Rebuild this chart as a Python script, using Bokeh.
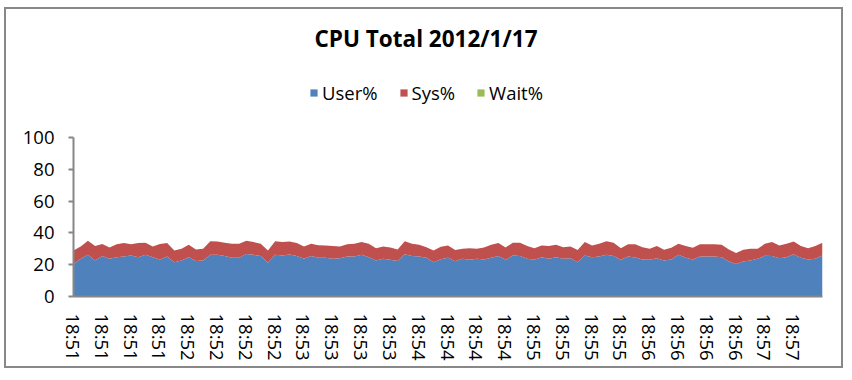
from bokeh.plotting import figure
from bokeh.models import ColumnDataSource, Range1d, FixedTicker, Label
from bokeh.embed import file_html
from bokeh.resources import INLINE

TITLE = "CPU Total 2012/1/17"
SERIES = ["User%", "Sys%", "Wait%"]
COLORS = ["#4F81BD", "#C0504D", "#9BBB59"]

TIME_LABELS = [
    "18:51", "18:51", "18:51", "18:51",
    "18:52", "18:52", "18:52", "18:52",
    "18:53", "18:53", "18:53", "18:53",
    "18:54", "18:54", "18:54", "18:54",
    "18:55", "18:55", "18:55", "18:55",
    "18:56", "18:56", "18:56", "18:56",
    "18:57", "18:57",
]
LABEL_EVERY = 4

USER = [
    20.5, 23.7, 26.2, 22.6, 25.4, 23.7, 24.7, 25.1, 25.8, 24.7,
    26.2, 24.7, 23.3, 25.1, 21.6, 22.6, 24.7, 22.3, 22.6, 26.2,
    26.2, 25.4, 24.3, 24.3, 26.8, 26.2, 25.4, 21.2, 26.2, 25.8,
    26.4, 25.4, 23.7, 25.4, 24.3, 24.3, 23.7, 24.0, 25.1, 25.1,
    26.2, 24.7, 22.6, 23.7, 23.1, 22.4, 26.6, 25.4, 25.1, 24.3,
    21.6, 23.5, 24.3, 22.2, 23.7, 23.1, 23.7, 23.3, 24.3, 25.4,
    23.1, 25.8, 25.4, 23.7, 23.1, 24.7, 23.7, 24.7, 23.7, 24.0,
    21.6, 25.8, 24.7, 25.1, 26.2, 25.4, 23.1, 25.1, 24.5, 23.3,
    23.1, 24.0, 22.6, 23.3, 26.2, 24.3, 23.3, 25.1, 25.1, 25.1,
    24.7, 22.0, 20.5, 22.0, 22.6, 23.7, 25.6, 25.4, 24.0, 24.7,
    26.6, 24.3, 23.3, 23.7, 25.8,
]
SYS = [
    8.4, 7.8, 8.8, 9.1, 7.6, 7.1, 8.1, 8.5, 7.0, 8.9,
    7.6, 6.8, 9.7, 8.5, 7.3, 7.4, 7.8, 7.2, 7.4, 8.6,
    8.4, 8.4, 8.8, 8.8, 8.2, 8.0, 7.7, 7.7, 8.6, 8.4,
    8.2, 8.2, 7.8, 7.7, 8.0, 7.8, 8.0, 7.4, 7.8, 8.0,
    8.0, 8.4, 7.8, 7.7, 7.7, 7.1, 8.2, 7.7, 7.4, 6.7,
    7.3, 7.8, 7.8, 7.0, 6.3, 7.3, 6.3, 7.5, 8.2, 8.2,
    7.7, 8.0, 8.4, 8.0, 7.3, 7.4, 8.0, 7.8, 7.3, 7.5,
    7.6, 8.4, 7.4, 8.0, 8.6, 8.4, 7.3, 7.7, 8.4, 7.7,
    6.9, 7.7, 6.8, 7.3, 6.9, 7.4, 7.4, 7.7, 7.7, 7.7,
    7.8, 7.5, 6.8, 7.4, 7.4, 6.3, 7.5, 8.8, 8.1, 8.4,
    8.0, 7.4, 7.1, 8.0, 8.0,
]
WAIT = [
    0, 0, 0, 0, 0, 0, 0, 0, 0, 0,
    0, 0, 0, 0, 0, 0, 0, 0, 0, 0,
    0, 0, 0, 0, 0, 0, 0, 0, 0, 0,
    0, 0, 0, 0, 0, 0, 0, 0, 0, 0,
    0, 0, 0, 0, 0, 0, 0, 0, 0, 0,
    0, 0, 0, 0, 0, 0, 0, 0, 0, 0,
    0, 0, 0, 0, 0, 0, 0, 0, 0, 0,
    0, 0, 0, 0, 0, 0, 0, 0, 0, 0,
    0, 0, 0, 0, 0, 0, 0, 0, 0, 0,
    0, 0, 0, 0, 0, 0, 0, 0, 0, 0,
    0, 0, 0, 0, 0,
]
Y_TICKS = [0, 20, 40, 60, 80, 100]

N = len(USER)
xs = list(range(N))
source = ColumnDataSource(dict(x=xs, user=USER, sys=SYS, wait=WAIT))

# ---- layout (page pixels) ----
MARGIN_X, MARGIN_Y, BORDER = 4, 7, 2
OFF_X, OFF_Y = MARGIN_X + BORDER, MARGIN_Y + BORDER
W, H = 839, 361
FRAME_LEFT, FRAME_RIGHT = 73, 822
ZERO_Y, HUNDRED_Y, FRAME_TOP = 296, 137, 16
px_per_unit = (ZERO_Y - HUNDRED_Y) / 100.0
y_top = (ZERO_Y - FRAME_TOP) / px_per_unit

FONT = "Open Sans"
AXIS_GRAY = "#868686"
TICK_FONT_SIZE = "18.5px"

p = figure(width=W, height=H, output_backend="svg", toolbar_location=None,
           x_range=Range1d(0, N - 1), y_range=Range1d(0, y_top),
           min_border_left=FRAME_LEFT - OFF_X,
           min_border_right=W - (FRAME_RIGHT - OFF_X),
           min_border_top=FRAME_TOP - OFF_Y,
           min_border_bottom=H - (ZERO_Y - OFF_Y),
           background_fill_color="white", border_fill_color="white")
p.styles = {"border": f"{BORDER}px solid #888888",
            "margin-left": f"{MARGIN_X}px", "margin-top": f"{MARGIN_Y}px"}
p.outline_line_color = None
p.grid.visible = False

p.varea_stack(["user", "sys", "wait"], x="x", color=COLORS,
              legend_label=SERIES, source=source)

# y axis
ya = p.yaxis[0]
ya.ticker = FixedTicker(ticks=Y_TICKS)
ya.bounds = (0, 100)
ya.axis_line_color = AXIS_GRAY
ya.axis_line_width = 2
ya.major_tick_line_color = AXIS_GRAY
ya.major_tick_line_width = 2
ya.major_tick_out = 5
ya.major_tick_in = 0
ya.minor_tick_line_color = None
ya.major_label_standoff = 14
ya.major_label_text_font = FONT
ya.major_label_text_font_size = TICK_FONT_SIZE
ya.major_label_text_color = "black"

# x axis
xa = p.xaxis[0]
tick_pos = [i * LABEL_EVERY for i in range(len(TIME_LABELS))]
xa.ticker = FixedTicker(ticks=tick_pos)
xa.major_label_overrides = {t: lab for t, lab in zip(tick_pos, TIME_LABELS)}
xa.major_label_orientation = "vertical"
xa.axis_line_color = AXIS_GRAY
xa.axis_line_width = 2
xa.major_tick_line_color = None
xa.minor_tick_line_color = None
xa.major_label_standoff = 11
xa.major_label_text_font = FONT
xa.major_label_text_font_size = TICK_FONT_SIZE
xa.major_label_text_color = "black"

# title
title_cx = 425.5
title_cy = 38
p.add_layout(Label(
    x=(N - 1) * (title_cx - FRAME_LEFT) / (FRAME_RIGHT - FRAME_LEFT),
    y=(ZERO_Y - title_cy) / px_per_unit,
    text=TITLE, text_font=FONT, text_font_size="22.5px",
    text_font_style="bold", text_align="center", text_baseline="middle",
    text_color="black"))

# legend
lg = p.legend[0]
lg.orientation = "horizontal"
lg.location = (309 - FRAME_LEFT, ZERO_Y - 105)
lg.padding = 0
lg.margin = 0
lg.spacing = 21
lg.glyph_width = 9
lg.glyph_height = 9
lg.label_standoff = 4
lg.label_height = 20
lg.label_text_font = FONT
lg.label_text_font_size = "18.5px"
lg.label_text_color = "black"
lg.border_line_color = None
lg.background_fill_alpha = 0

open("out.html", "w").write(file_html(p, INLINE))
